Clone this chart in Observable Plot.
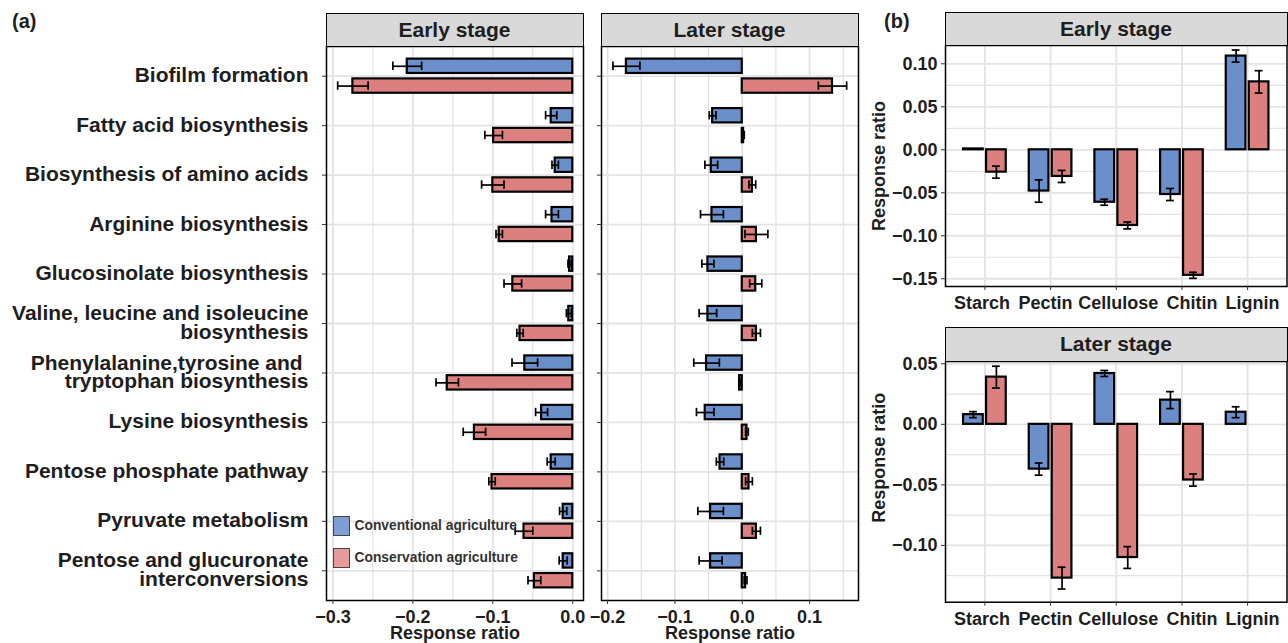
<!DOCTYPE html>
<html>
<head>
<meta charset="utf-8">
<script src="https://cdn.jsdelivr.net/npm/d3@7"></script>
<script src="https://cdn.jsdelivr.net/npm/@observablehq/plot@0.6"></script>
<style>
  body { margin: 0; background: #fff; }
  #root { position: relative; width: 1288px; height: 643px; overflow: hidden; background: #fff;
          font-family: "Liberation Sans", Arial, Helvetica, sans-serif; }
  .strip { position: absolute; box-sizing: border-box; background: #d9d9d9; border: 1.5px solid #000;
           font-weight: bold; font-size: 21px; color: #1e1e1e; display: flex; align-items: center; justify-content: center; }
  .tag { position: absolute; font-weight: bold; font-size: 20px; color: #1e1e1e; }
  .lg { position: absolute; font-weight: bold; font-size: 13.8px; color: #333; line-height: 1; white-space: nowrap; }
  .key { position: absolute; box-sizing: border-box; border: 1.2px solid #444; width: 17px; height: 20px; }
</style>
</head>
<body>
<div id="root"></div>
<script>
// ---------------- DATA ----------------
const stages = ["Early stage", "Later stage"];
const groups = ["Conventional agriculture", "Conservation agriculture"];
const groupColors = ["#6b8fcb", "#dc7f7f"];
const legendColors = ["#7e9fd6", "#e69a9a"];

// (a) KEGG pathways
const pathways = [
  "Biofilm formation",
  "Fatty acid biosynthesis",
  "Biosynthesis of amino acids",
  "Arginine biosynthesis",
  "Glucosinolate biosynthesis",
  "Valine, leucine and isoleucine\nbiosynthesis",
  "Phenylalanine,tyrosine and \ntryptophan biosynthesis",
  "Lysine biosynthesis",
  "Pentose phosphate pathway",
  "Pyruvate metabolism",
  "Pentose and glucuronate\ninterconversions"
];
const earlyConv   = [-0.207, -0.027, -0.022, -0.026, -0.004, -0.005, -0.060, -0.039, -0.027, -0.012, -0.012];
const earlyConvSE = [ 0.018,  0.007,  0.004,  0.008,  0.002,  0.003,  0.016,  0.0075, 0.005,  0.0045, 0.005];
const earlyCons   = [-0.275, -0.099, -0.100, -0.092, -0.075, -0.066, -0.157, -0.123, -0.101, -0.061, -0.048];
const earlyConsSE = [ 0.019,  0.011,  0.014,  0.004,  0.011,  0.004,  0.014,  0.014,  0.004,  0.011,  0.008];
const laterConv   = [-0.172, -0.044, -0.046, -0.045, -0.051, -0.051, -0.053, -0.055, -0.033, -0.047, -0.047];
const laterConvSE = [ 0.020,  0.005,  0.0095, 0.017,  0.009,  0.013,  0.019,  0.013,  0.0055, 0.019,  0.017];
const laterCons   = [ 0.134,  0.002,  0.015,  0.021,  0.020,  0.021, -0.004,  0.007,  0.010,  0.021,  0.005];
const laterConsSE = [ 0.021,  0.001,  0.005,  0.017,  0.009,  0.006,  0.001,  0.002,  0.005,  0.006,  0.002];
const aEarlyTicks = [-0.3, -0.2, -0.1, 0.0];
const aEarlyMinor = [-0.25, -0.15, -0.05];
const aLaterTicks = [-0.2, -0.1, 0.0, 0.1];
const aLaterMinor = [-0.15, -0.05, 0.05, 0.15];

// (b) substrates
const substrates = ["Starch", "Pectin", "Cellulose", "Chitin", "Lignin"];
const bEarlyConv   = [0.001, -0.048, -0.061, -0.052, 0.109];
const bEarlyConvSE = [0.0,    0.013,  0.0035, 0.007, 0.007];
const bEarlyCons   = [-0.026, -0.031, -0.088, -0.146, 0.079];
const bEarlyConsSE = [0.007,  0.007,  0.004,  0.0035, 0.013];
const bLaterConv   = [0.008, -0.037, 0.042, 0.020, 0.010];
const bLaterConvSE = [0.0025, 0.005, 0.0025, 0.007, 0.0045];
const bLaterCons   = [0.039, -0.127, -0.110, -0.046, null];
const bLaterConsSE = [0.009,  0.009,  0.009,  0.005, null];
const bEarlyTicks = [-0.15, -0.10, -0.05, 0.00, 0.05, 0.10];
const bEarlyMinor = [-0.125, -0.075, -0.025, 0.025, 0.075];
const bLaterTicks = [-0.10, -0.05, 0.00, 0.05];
const bLaterMinor = [-0.125, -0.075, -0.025, 0.025];

// ---------------- STYLE ----------------
const FONT = '"Liberation Sans", Arial, Helvetica, sans-serif';
const TXT = "#1e1e1e";
const GRID = "#e3e3e3";
// small horizontal nudges (px) of the substrate labels, as in the reference layout
const substrateLabelNudge = [-3, -5, 2, 10, 5];
const root = document.getElementById("root");

function rowsFrom(cats, conv, convSE, cons, consSE) {
  const out = [];
  cats.forEach((c, i) => {
    if (conv[i] != null) out.push({pos: i + 1, g: 0, v: conv[i], se: convSE[i]});
    if (cons[i] != null) out.push({pos: i + 1, g: 1, v: cons[i], se: consSE[i]});
  });
  return out;
}

function place(el, left, top) {
  el.style.position = "absolute";
  el.style.left = left + "px";
  el.style.top = top + "px";
  root.appendChild(el);
}

function baseStyle() {
  return {background: "transparent", overflow: "visible", fontFamily: FONT, fontWeight: "bold", color: TXT, maxWidth: "none"};
}

// horizontal bar panel (a)
function hPanel({rows, xDomain, ticks, minor, width, mL, mR, showLabels}) {
  const D = 0.2, H = 0.145, CAP = 0.085;
  const c = d => d.pos + (d.g === 0 ? -D : D);
  return Plot.plot({
    width, height: 643, marginLeft: mL, marginRight: mR, marginTop: 46, marginBottom: 43,
    style: baseStyle(),
    x: {domain: xDomain},
    y: {domain: [pathways.length + 0.6, 0.4]},
    color: {type: "identity"},
    marks: [
      Plot.ruleX(minor, {stroke: GRID, strokeWidth: 1.2}),
      Plot.ruleX(ticks, {stroke: GRID, strokeWidth: 1.8}),
      Plot.ruleY(pathways.map((p, i) => i + 1), {stroke: GRID, strokeWidth: 1.8}),
      Plot.rect(rows, {x1: () => 0, x2: "v", y1: d => c(d) - H, y2: d => c(d) + H,
        fill: d => groupColors[d.g], stroke: "#000", strokeWidth: 2.2}),
      Plot.ruleY(rows, {y: c, x1: d => d.v - d.se, x2: d => d.v + d.se, stroke: "#000", strokeWidth: 1.7}),
      Plot.ruleX(rows, {x: d => d.v - d.se, y1: d => c(d) - CAP, y2: d => c(d) + CAP, stroke: "#000", strokeWidth: 1.7}),
      Plot.ruleX(rows, {x: d => d.v + d.se, y1: d => c(d) - CAP, y2: d => c(d) + CAP, stroke: "#000", strokeWidth: 1.7}),
      Plot.frame({stroke: "#000", strokeWidth: 1.5}),
      Plot.axisX({ticks, tickFormat: d3.format(".1f"), tickSize: 4, tickPadding: 5.5, fontSize: 18,
        fontWeight: "bold", color: TXT, stroke: "#333", label: null}),
      Plot.axisY({ticks: pathways.map((p, i) => i + 1),
        tickFormat: showLabels ? (i => pathways[i - 1]) : (() => ""),
        tickSize: 4, tickPadding: 14, fontSize: 21, lineHeight: 0.9, fontWeight: "bold",
        color: TXT, stroke: "#333", label: null}),
      Plot.text(["Response ratio"], {text: d => d, frameAnchor: "bottom", lineAnchor: "middle", dy: 32.5,
        fontSize: 18, fontWeight: "bold", fill: TXT})
    ]
  });
}

// vertical bar panel (b)
function vPanel({rows, yDomain, ticks, minor, height, mT, mB, titleShift}) {
  const D = 0.175, H = 0.15, CAP = 0.06;
  const c = d => d.pos + (d.g === 0 ? -D : D);
  const catTicks = substrates.map((s, i) => i + 1);
  const withSE = rows.filter(d => d.se > 0);
  return Plot.plot({
    width: 428, height, marginLeft: 85, marginRight: 1.5, marginTop: mT, marginBottom: mB,
    style: baseStyle(),
    x: {domain: [0.4, substrates.length + 0.6]},
    y: {domain: yDomain},
    color: {type: "identity"},
    marks: [
      Plot.ruleY(minor, {stroke: GRID, strokeWidth: 1.2}),
      Plot.ruleY(ticks, {stroke: GRID, strokeWidth: 1.8}),
      Plot.ruleX(catTicks, {stroke: GRID, strokeWidth: 1.8}),
      Plot.rect(rows, {y1: () => 0, y2: "v", x1: d => c(d) - H, x2: d => c(d) + H,
        fill: d => groupColors[d.g], stroke: "#000", strokeWidth: 2.2}),
      Plot.ruleX(withSE, {x: c, y1: d => d.v - d.se, y2: d => d.v + d.se, stroke: "#000", strokeWidth: 1.7}),
      Plot.ruleY(withSE, {y: d => d.v - d.se, x1: d => c(d) - CAP, x2: d => c(d) + CAP, stroke: "#000", strokeWidth: 1.7}),
      Plot.ruleY(withSE, {y: d => d.v + d.se, x1: d => c(d) - CAP, x2: d => c(d) + CAP, stroke: "#000", strokeWidth: 1.7}),
      Plot.frame({stroke: "#000", strokeWidth: 1.5}),
      Plot.axisX({ticks: catTicks, tickFormat: () => "", tickSize: 4, stroke: "#333", label: null}),
      ...substrates.map((s, i) => Plot.axisX({ticks: [i + 1], tickFormat: () => s, tickSize: 0, tickPadding: 10,
        dx: substrateLabelNudge[i], fontSize: 18, fontWeight: "bold", color: TXT, label: null})),
      Plot.axisY({ticks, tickFormat: d3.format(".2f"), tickSize: 4, tickPadding: 4, fontSize: 18,
        fontWeight: "bold", color: TXT, stroke: "#333", label: null}),
      Plot.text(["Response ratio"], {text: d => d, frameAnchor: "left", textAnchor: "middle", lineAnchor: "middle",
        dx: -66, dy: titleShift, rotate: -90, fontSize: 18, fontWeight: "bold", fill: TXT})
    ]
  });
}

// ---------------- BUILD ----------------
const aEarly = hPanel({rows: rowsFrom(pathways, earlyConv, earlyConvSE, earlyCons, earlyConsSE),
  xDomain: [-0.308, 0.0134], ticks: aEarlyTicks, minor: aEarlyMinor, width: 590, mL: 326, mR: 7, showLabels: true});
place(aEarly, 0, 0);

const aLater = hPanel({rows: rowsFrom(pathways, laterConv, laterConvSE, laterCons, laterConsSE),
  xDomain: [-0.209, 0.1726], ticks: aLaterTicks, minor: aLaterMinor, width: 275, mL: 11, mR: 7, showLabels: false});
place(aLater, 590, 0);

const bEarly = vPanel({rows: rowsFrom(substrates, bEarlyConv, bEarlyConvSE, bEarlyCons, bEarlyConsSE),
  yDomain: [-0.159, 0.1213], ticks: bEarlyTicks, minor: bEarlyMinor, height: 320, mT: 45, mB: 34, titleShift: 0});
place(bEarly, 860, 0);

const bLater = vPanel({rows: rowsFrom(substrates, bLaterConv, bLaterConvSE, bLaterCons, bLaterConsSE),
  yDomain: [-0.1469, 0.0519], ticks: bLaterTicks, minor: bLaterMinor, height: 323, mT: 41, mB: 41.3, titleShift: -24});
place(bLater, 860, 320);

// strips
function strip(text, left, top, width, height) {
  const d = document.createElement("div");
  d.className = "strip";
  d.textContent = text;
  d.style.width = width + "px";
  d.style.height = height + "px";
  place(d, left, top);
}
strip(stages[0], 325.5, 12.5, 258, 34);
strip(stages[1], 600.5, 12.5, 258, 34);
strip(stages[0], 944.5, 11.5, 343, 34);
strip(stages[1], 944.5, 326.5, 343, 35);

// panel tags
function tag(text, left, top) {
  const d = document.createElement("div");
  d.className = "tag";
  d.textContent = text;
  place(d, left, top);
}
tag("(a)", 12, 10);
tag("(b)", 884, 10);

// legend
groups.forEach((g, i) => {
  const k = document.createElement("div");
  k.className = "key";
  k.style.background = legendColors[i];
  place(k, 333, 516 + i * 31.5);
  const t = document.createElement("div");
  t.className = "lg";
  t.textContent = g;
  place(t, 354.5, 518.5 + i * 32);
});
</script>
</body>
</html>
